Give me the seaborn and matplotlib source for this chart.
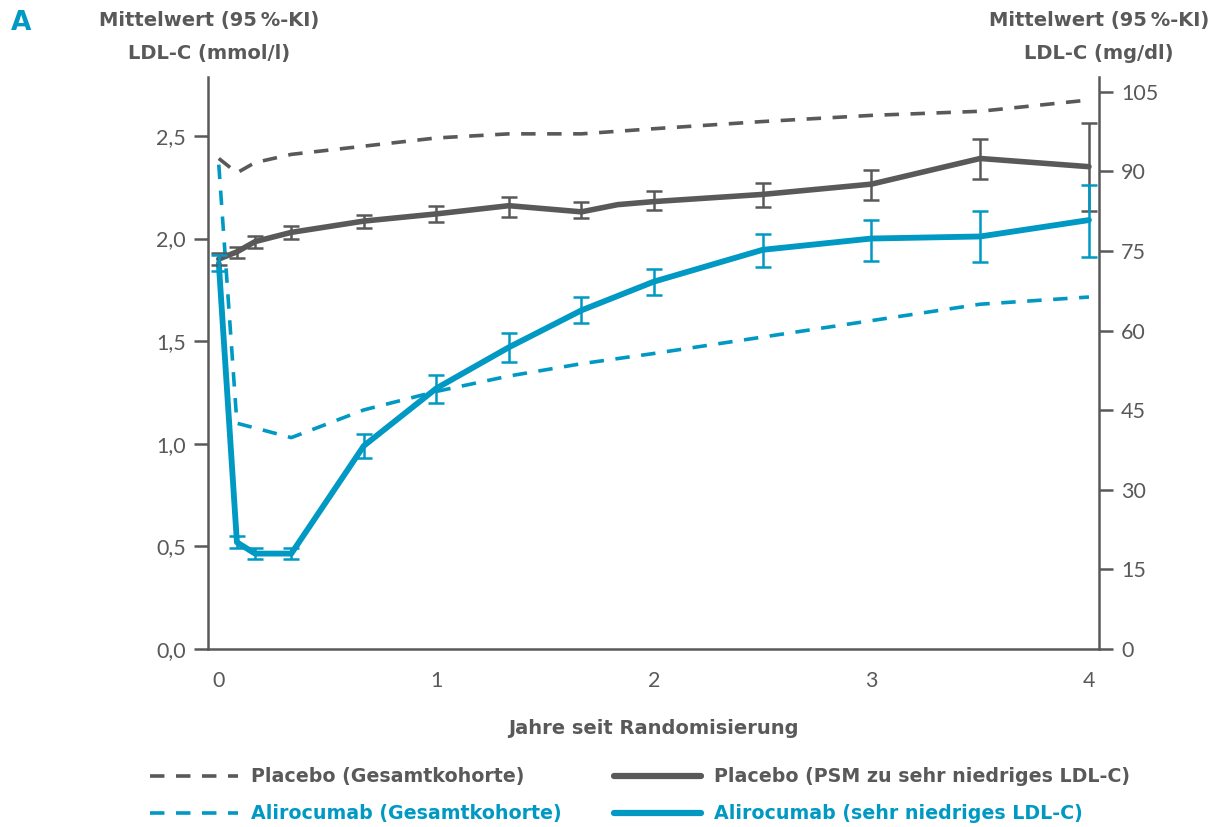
import matplotlib
matplotlib.use("Agg")
import matplotlib.pyplot as plt
from matplotlib.lines import Line2D
import numpy as np
import pandas as pd
import seaborn as sns

# time points in years since randomisation
years = [0, 1/12, 2/12, 4/12, 8/12, 1, 16/12, 20/12, 2, 2.5, 3, 3.5, 4]
years_psm = [0, 1/12, 2/12, 4/12, 8/12, 1, 16/12, 20/12, 22/12, 2, 2.5, 3, 3.5, 4]

# LDL-C mean (mmol/l)
placebo_ges = [2.39, 2.32, 2.37, 2.41, 2.45, 2.49, 2.51, 2.51, 2.535, 2.57, 2.60, 2.62, 2.675]
aliro_ges = [2.36, 1.10, 1.077, 1.03, 1.165, 1.255, 1.33, 1.39, 1.44, 1.52, 1.60, 1.68, 1.715]

placebo_psm = [1.90, 1.935, 1.985, 2.03, 2.085, 2.12, 2.16, 2.13, 2.165, 2.18, 2.215, 2.265, 2.39, 2.35]
placebo_psm_lo = [1.87, 1.905, 1.955, 2.00, 2.05, 2.08, 2.105, 2.10, np.nan, 2.14, 2.155, 2.19, 2.29, 2.135]
placebo_psm_hi = [1.93, 1.96, 2.01, 2.06, 2.115, 2.16, 2.20, 2.18, np.nan, 2.23, 2.27, 2.335, 2.485, 2.565]

aliro_low = [1.88, 0.52, 0.465, 0.465, 0.99, 1.27, 1.47, 1.65, 1.79, 1.945, 2.00, 2.01, 2.09]
aliro_low_lo = [1.84, 0.49, 0.44, 0.44, 0.93, 1.20, 1.40, 1.59, 1.725, 1.86, 1.89, 1.885, 1.91]
aliro_low_hi = [1.92, 0.55, 0.49, 0.49, 1.05, 1.335, 1.54, 1.715, 1.85, 2.02, 2.09, 2.135, 2.26]

x_ticks = [0, 1/12, 2/12, 4/12, 8/12, 1, 16/12, 20/12, 2, 2.5, 3, 3.5, 4]
x_labels = ["0", "", "", "", "", "1", "", "", "2", "", "3", "", "4"]
y_ticks = [0, 0.5, 1.0, 1.5, 2.0, 2.5]
y_labels = ["0,0", "0,5", "1,0", "1,5", "2,0", "2,5"]
mgdl_ticks = [0, 15, 30, 45, 60, 75, 90, 105]

labels = ["Placebo (Gesamtkohorte)", "Alirocumab (Gesamtkohorte)",
          "Placebo (PSM zu sehr niedriges LDL-C)", "Alirocumab (sehr niedriges LDL-C)"]

GREY = "#595959"
BLUE = "#0099c4"
MMOL_TO_MGDL = 38.67
DASH = (4.0, 3.2)

sns.set_style("white")
plt.rcParams["font.family"] = ["DejaVu Sans"]
bold = {"family": "DejaVu Sans", "weight": "bold", "size": 14}

fig = plt.figure(figsize=(12.23, 8.27), dpi=100)
ax = fig.add_axes([0.170, 0.2152, 0.7286, 0.6917])

# dashed whole-cohort lines
sns.lineplot(x=years, y=placebo_ges, ax=ax, color=GREY, linewidth=2.6)
ax.lines[-1].set_dashes(DASH)
sns.lineplot(x=years, y=aliro_ges, ax=ax, color=BLUE, linewidth=2.6)
ax.lines[-1].set_dashes(DASH)

# solid subgroup lines with 95% CI bars
sns.lineplot(x=years_psm, y=placebo_psm, ax=ax, color=GREY, linewidth=4)
sns.lineplot(x=years, y=aliro_low, ax=ax, color=BLUE, linewidth=4.2)

psm = pd.DataFrame({"x": years_psm, "y": placebo_psm, "lo": placebo_psm_lo, "hi": placebo_psm_hi}).dropna()
ax.errorbar(psm["x"], psm["y"], yerr=[psm["y"] - psm["lo"], psm["hi"] - psm["y"]],
            fmt="none", ecolor=GREY, elinewidth=1.8, capsize=6, capthick=1.8)
al = pd.DataFrame({"x": years, "y": aliro_low, "lo": aliro_low_lo, "hi": aliro_low_hi})
ax.errorbar(al["x"], al["y"], yerr=[al["y"] - al["lo"], al["hi"] - al["y"]],
            fmt="none", ecolor=BLUE, elinewidth=1.8, capsize=6, capthick=1.8)

ax.set_xlim(-0.05, 4.046)
ax.set_ylim(0, 2.787)
ax.set_xticks(x_ticks)
ax.set_xticklabels(x_labels)
ax.set_yticks(y_ticks)
ax.set_yticklabels(y_labels)

ax2 = ax.twinx()
ax2.set_ylim(0, 2.787 * MMOL_TO_MGDL)
ax2.set_yticks(mgdl_ticks)

for a in (ax, ax2):
    for side in ("top", "left", "right", "bottom"):
        a.spines[side].set_visible(False)
    a.tick_params(axis="both", which="both", direction="out", length=10, width=1.8,
                  color=GREY, labelcolor=GREY, labelsize=14, pad=6)
    for t in a.get_xticklabels() + a.get_yticklabels():
        t.set_fontfamily(["Lato", "DejaVu Sans"])
        t.set_fontsize(15.5)
ax.spines["left"].set_visible(True)
ax.spines["bottom"].set_visible(True)
ax2.spines["right"].set_visible(True)
for s in (ax.spines["left"], ax.spines["bottom"], ax2.spines["right"]):
    s.set_color(GREY)
    s.set_linewidth(1.8)

ax.set_xlabel("Jahre seit Randomisierung", fontdict=bold, color=GREY, labelpad=20)
ax.set_ylabel("")

fig.text(0.0085, 0.972, "A", fontsize=19, fontweight="bold", color=BLUE, va="center", ha="left")
fig.text(0.171, 0.975, "Mittelwert (95\u202f%-KI)", fontdict=bold, color=GREY, ha="center", va="center")
fig.text(0.171, 0.935, "LDL-C (mmol/l)", fontdict=bold, color=GREY, ha="center", va="center")
fig.text(0.8986, 0.975, "Mittelwert (95\u202f%-KI)", fontdict=bold, color=GREY, ha="center", va="center")
fig.text(0.8986, 0.935, "LDL-C (mg/dl)", fontdict=bold, color=GREY, ha="center", va="center")

handles = [
    Line2D([], [], color=GREY, linewidth=2.6, dashes=DASH),
    Line2D([], [], color=BLUE, linewidth=2.6, dashes=DASH),
    Line2D([], [], color=GREY, linewidth=4.5),
    Line2D([], [], color=BLUE, linewidth=4.5),
]
leg = fig.legend(handles, labels, loc="upper left", bbox_to_anchor=(0.109, 0.093), ncol=2,
                 frameon=False, handlelength=4.6, handletextpad=0.67, columnspacing=2.75,
                 labelspacing=0.95, prop={"family": "DejaVu Sans", "size": 13.7, "weight": "bold"},
                 labelcolor="linecolor")

fig.savefig("out.png", dpi=100)
